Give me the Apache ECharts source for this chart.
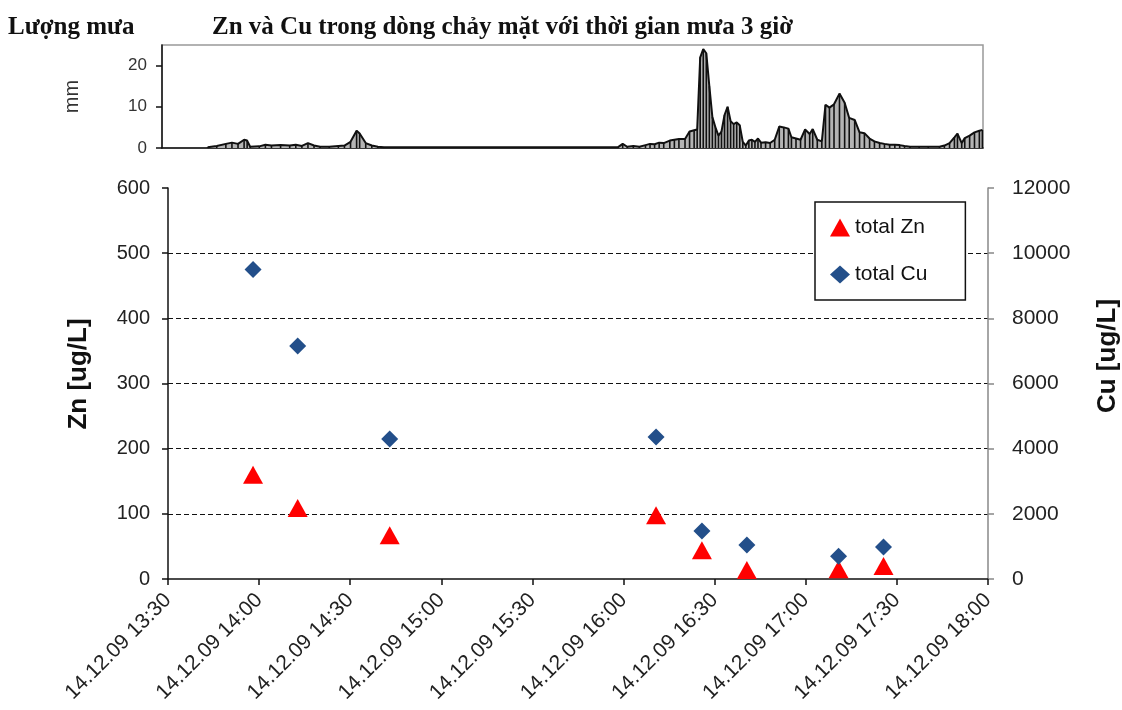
<!DOCTYPE html>
<html><head><meta charset="utf-8">
<script src="https://cdn.jsdelivr.net/npm/echarts@6/dist/echarts.min.js"></script>
<style>html,body{margin:0;padding:0;background:#fff}#c{width:1122px;height:710px}</style>
</head><body><div id="c"></div>
<script>
// Time tick labels (bottom axis, every 30 min from 13:30)
const tickLabels = ["14.12.09 13:30","14.12.09 14:00","14.12.09 14:30","14.12.09 15:00","14.12.09 15:30","14.12.09 16:00","14.12.09 16:30","14.12.09 17:00","14.12.09 17:30","14.12.09 18:00"];
// Sample times (minutes after 13:30)
const sampleTimes = [28, 42.7, 73, 160.7, 175.8, 190.6, 220.8, 235.6];
const totalZn = [160, 109, 67, 98, 44, 14, 15, 20];
const totalCu = [9500, 7150, 4300, 4360, 1470, 1040, 700, 980];
// Rainfall hyetograph: time (minutes after 13:30) and mm
const rainTimes = [13,16,19,21,23,25,26,27,30,32,34,37,40,42,44,46,48,50,53,56,58,60,62,63,65,67,69,71,148,149.5,151,153,155,157,158.5,160,161.5,163,165,166.5,168,170,171.5,173,174,175,176,177,178,179,180,181,182,183,184,185,186,187,188,189,190,191,192,193,194,195,196.5,198,199.5,201,202.5,204,205,206.5,208,209.5,211,212,213.5,215,216.2,217.5,219,220.8,222.5,224,225.8,227.4,229,230.7,232.3,234,235.6,237.3,239,240.6,242.2,244,247,250,253.7,255.3,257,258.6,259.6,261,262,263.6,265.2,266.8,267.8];
const rainMm = [0.2,0.5,1.0,1.3,1.0,2.0,1.8,0.3,0.4,0.8,0.6,0.7,0.6,0.8,0.5,1.2,0.6,0.3,0.3,0.5,0.6,1.5,4.2,3.5,1.2,0.6,0.3,0.2,0.2,1.0,0.3,0.5,0.3,0.7,1.0,0.9,1.3,1.2,1.8,2.0,2.2,2.2,4.0,4.3,4.5,22,24,23,15,7.5,5,3,4,8,10,6.5,5.8,6.2,5.5,1.5,0.6,1.8,2.0,1.5,2.3,1.3,1.4,1.2,2.0,5.2,5.0,4.7,2.6,2.3,2.0,4.5,3.4,4.6,2.0,1.6,10.5,9.8,10.6,13.2,11,7.3,6.8,3.8,3.6,2.3,1.6,1.2,1.0,0.8,0.8,0.7,0.5,0.3,0.3,0.3,0.3,0.6,1.2,2.6,3.5,1.2,2.4,3.0,3.8,4.2,4.4];

const zn = sampleTimes.map((t,i)=>[t,totalZn[i]]);
const cu = sampleTimes.map((t,i)=>[t,totalCu[i]]);
const rain = rainTimes.map((t,i)=>[t,rainMm[i]]);
const sans = 'Liberation Sans, Arial, sans-serif';
const serif = 'Liberation Serif, Times New Roman, serif';

const chart = echarts.init(document.getElementById('c'));
chart.setOption({
  animation:false,
  backgroundColor:'#fff',
  title:[
    {text:'Lượng mưa', left:3, top:10, textStyle:{fontFamily:serif,fontWeight:'bold',fontSize:25,color:'#111'}},
    {text:'Zn và Cu trong dòng chảy mặt với thời gian mưa 3 giờ', left:207, top:10, textStyle:{fontFamily:serif,fontWeight:'bold',fontSize:25,color:'#111'}}
  ],
  legend:{
    orient:'vertical', left:815, top:202,
    backgroundColor:'#fff', borderColor:'#111', borderWidth:1.5,
    padding:[15,38,15,15], itemGap:26, itemWidth:20, itemHeight:18,
    textStyle:{fontFamily:sans,fontSize:21,color:'#111'},
    data:[{name:'total Zn',icon:'triangle'},{name:'total Cu',icon:'diamond'}]
  },
  graphic:[
    {type:'text', x:79, y:374, rotation:Math.PI/2, style:{text:'Zn [ug/L]', fontFamily:sans, fontWeight:'bold', fontSize:26, fill:'#111', align:'center', verticalAlign:'middle'}},
    {type:'text', x:1108, y:356, rotation:Math.PI/2, style:{text:'Cu [ug/L]', fontFamily:sans, fontWeight:'bold', fontSize:26, fill:'#111', align:'center', verticalAlign:'middle'}}
  ],
  grid:[
    {left:168, right:134, top:188, bottom:131},
    {left:162, right:139, top:45, bottom:562, show:true, borderColor:'#999', borderWidth:1.5}
  ],
  xAxis:[
    {type:'value', gridIndex:0, min:0, max:270, interval:30,
     axisLine:{lineStyle:{color:'#111',width:1.5}},
     axisTick:{show:true,length:6,lineStyle:{color:'#111',width:1.5}},
     splitLine:{show:false},
     axisLabel:{rotate:45, fontFamily:sans, fontSize:21, color:'#222', margin:18,
       formatter:v=>tickLabels[Math.round(v/30)]}},
    {type:'value', gridIndex:1, min:-2, max:268,
     axisLine:{onZero:false,lineStyle:{color:'#111',width:1.5}}, axisTick:{show:false}, axisLabel:{show:false}, splitLine:{show:false}}
  ],
  yAxis:[
    {type:'value', gridIndex:0, min:0, max:600, interval:100,
     axisLine:{show:true,onZero:false,lineStyle:{color:'#111',width:1.5}},
     axisTick:{show:true,length:6,lineStyle:{color:'#111',width:1.5}},
     axisLabel:{fontFamily:sans,fontSize:20,color:'#222',margin:18},
     splitLine:{show:true,showMinLine:false,showMaxLine:false,lineStyle:{color:'#111',type:[5,3],width:1}}},
    {type:'value', gridIndex:0, min:0, max:12000, interval:2000, position:'right',
     axisLine:{show:true,onZero:false,lineStyle:{color:'#888',width:1.5}},
     axisTick:{show:true,length:6,lineStyle:{color:'#888',width:1.5}},
     axisLabel:{fontFamily:sans,fontSize:21,color:'#222',margin:24,formatter:v=>String(v)},
     splitLine:{show:false}},
    {type:'value', gridIndex:1, min:0, max:25, name:'mm', nameLocation:'middle', nameGap:80,
     nameTextStyle:{fontFamily:sans,fontSize:20,color:'#333'},
     axisLine:{show:true,onZero:false,lineStyle:{color:'#111',width:1.5}},
     axisTick:{show:true,length:6,customValues:[0,10,20],lineStyle:{color:'#111',width:1.5}},
     axisLabel:{fontFamily:sans,fontSize:17,color:'#333',margin:15,customValues:[0,10,20]},
     splitLine:{show:false}}
  ],
  series:[
    {name:'rainfill', type:'line', xAxisIndex:1, yAxisIndex:2, data:rain, symbol:'none',
     lineStyle:{color:'#111',width:2}, areaStyle:{color:'#b4b4b4',opacity:1}, z:2},
    {name:'rainbars', type:'bar', xAxisIndex:1, yAxisIndex:2, data:rain, barWidth:1.6,
     itemStyle:{color:'#111'}, z:3},
    {name:'total Zn', type:'scatter', xAxisIndex:0, yAxisIndex:0, data:zn, symbol:'triangle', symbolSize:[20,18],
     itemStyle:{color:'#ff0000',opacity:1}, z:5},
    {name:'total Cu', type:'scatter', xAxisIndex:0, yAxisIndex:1, data:cu, symbol:'diamond', symbolSize:[17,17],
     itemStyle:{color:'#234f8a',opacity:1}, z:5}
  ]
});
</script></body></html>
